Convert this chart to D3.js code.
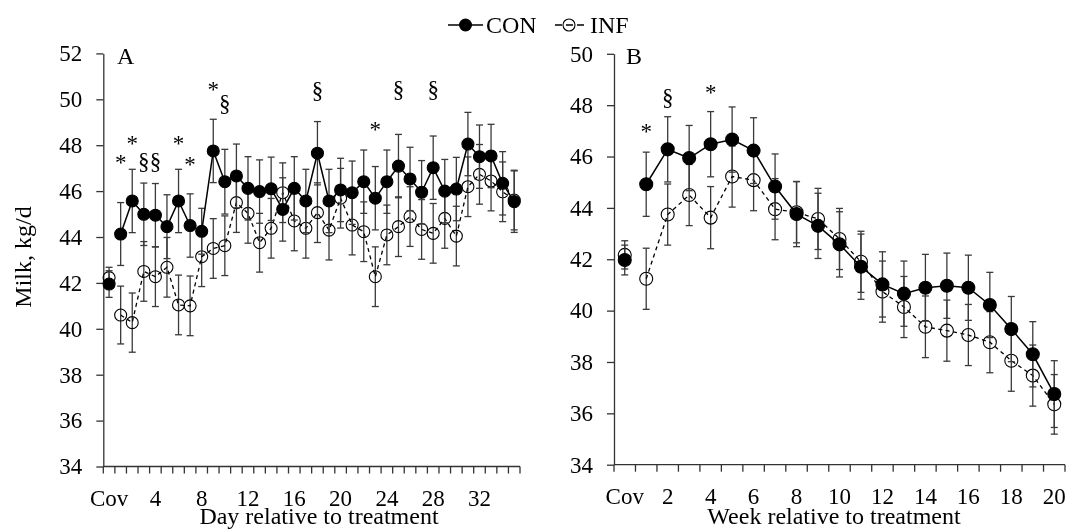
<!DOCTYPE html>
<html>
<head>
<meta charset="utf-8">
<script src="https://cdn.jsdelivr.net/npm/d3@7"></script>
<style>
  body { margin: 0; background: #fff; }
  svg { font-family: "Liberation Serif", "Times New Roman", serif; will-change: transform; }
</style>
</head>
<body>
<script>
// ---- data: panel A (daily) ----
let dayCats = ['Cov'].concat(d3.range(1, 36).map(String));
let dayLabels = ['Cov', '4', '8', '12', '16', '20', '24', '28', '32'];
let dayCon = [41.95, 44.13, 45.57, 44.99, 44.95, 44.45, 45.57, 44.5, 44.25, 47.75,
  46.41, 46.66, 46.12, 45.98, 46.1, 45.2, 46.12, 45.57, 47.65, 45.57,
  46.05, 45.93, 46.41, 45.69, 46.41, 47.09, 46.53, 45.95, 47.02, 46.0,
  46.09, 48.05, 47.5, 47.53, 46.34, 45.54];
let dayInf = [42.23, 40.6, 40.27, 42.5, 42.27, 42.68, 41.04, 41.0, 43.14, 43.5,
  43.62, 45.5, 45.03, 43.75, 44.38, 45.93, 44.7, 44.38, 45.06, 44.3,
  45.69, 44.52, 44.23, 42.27, 44.09, 44.45, 44.89, 44.33, 44.16, 44.81,
  44.04, 46.19, 46.73, 46.44, 45.97, 45.61];
let dayConSe = [0.58, 1.37, 1.38, 1.36, 1.38, 1.39, 1.38, 1.38, 1.0, 1.38,
  1.41, 1.39, 1.38, 1.38, 1.38, 1.38, 1.38, 1.38, 1.38, 1.38,
  1.38, 1.38, 1.38, 1.38, 1.38, 1.38, 1.38, 1.38, 1.38, 1.38,
  1.38, 1.38, 1.38, 1.38, 1.38, 1.34];
let dayInfSe = [0.45, 1.26, 1.29, 1.3, 1.3, 1.3, 1.3, 1.3, 1.3, 1.3,
  1.3, 1.3, 1.3, 1.28, 1.3, 1.3, 1.3, 1.3, 1.3, 1.3,
  1.3, 1.3, 1.3, 1.3, 1.3, 1.3, 1.3, 1.3, 1.3, 1.3,
  1.3, 1.3, 1.3, 1.3, 1.3, 1.3];
let dayMarkIdx = [1, 2, 3, 4, 6, 7, 9, 10, 18, 23, 25, 28];
let dayMarkSym = ['*', '*', '§', '§', '*', '*', '*', '§', '§', '*', '§', '§'];
let dayMarkY = [46.92, 47.75, 46.96, 46.96, 47.75, 46.83, 50.11, 49.5, 50.06, 48.36, 50.11, 50.11];

// ---- data: panel B (weekly) ----
let weekCats = ['Cov'].concat(d3.range(1, 21).map(String));
let weekLabels = ['Cov', '2', '4', '6', '8', '10', '12', '14', '16', '18', '20'];
let weekCon = [41.97, 44.92, 46.28, 45.94, 46.48, 46.66, 46.23, 44.83, 43.76, 43.3,
  42.58, 41.71, 41.02, 40.66, 40.89, 40.97, 40.89, 40.22, 39.28, 38.3, 36.75];
let weekInf = [42.17, 41.24, 43.74, 44.5, 43.62, 45.22, 45.08, 43.95, 43.83, 43.57,
  42.79, 41.9, 40.74, 40.14, 39.37, 39.22, 39.05, 38.77, 38.05, 37.47, 36.35];
let weekConSe = [0.58, 1.25, 1.27, 1.27, 1.27, 1.27, 1.28, 1.27, 1.27, 1.27,
  1.27, 1.27, 1.27, 1.27, 1.3, 1.27, 1.27, 1.27, 1.27, 1.27, 1.3];
let weekInfSe = [0.55, 1.19, 1.19, 1.19, 1.21, 1.19, 1.19, 1.19, 1.19, 1.19,
  1.19, 1.19, 1.19, 1.19, 1.2, 1.19, 1.19, 1.19, 1.19, 1.19, 1.16];
let weekMarkIdx = [1, 2, 4];
let weekMarkSym = ['*', '§', '*'];
let weekMarkY = [46.67, 48.0, 48.19];

let width = 1068, height = 529;

let svg = d3.select('body')
  .append('svg')
    .attr('width', width)
    .attr('height', height);

function drawPanel(p) {
  let x = d3.scaleBand()
    .domain(p.cats)
    .range([p.left, p.right])
    .padding(0);
  let y = d3.scaleLinear()
    .domain(p.yDomain)
    .range([p.bottom, p.top]);
  let cx = i => x(p.cats[i]) + x.bandwidth() / 2;

  let g = svg.append('g');

  // y axis
  let yAxis = g.append('g')
    .attr('transform', `translate(${p.left},0)`)
    .call(d3.axisLeft(y).tickValues(d3.range(p.yDomain[0], p.yDomain[1] + 1, 2))
      .tickSize(7).tickPadding(14).tickSizeOuter(0));
  yAxis.select('.domain').attr('stroke', '#333').attr('stroke-width', 1.3);
  yAxis.selectAll('.tick line').attr('stroke', '#333').attr('stroke-width', 1.3);
  yAxis.selectAll('text').style('font-size', '23px').attr('fill', '#000')
    .style('font-family', '"Liberation Serif", serif');

  // x axis line + tick marks between categories
  let xAxis = g.append('g')
    .attr('transform', `translate(0,${p.bottom})`);
  xAxis.append('line')
    .attr('x1', p.left).attr('x2', p.right)
    .attr('stroke', '#333').attr('stroke-width', 1.3);
  xAxis.selectAll('.xt')
    .data(p.cats.map(c => x(c)).concat([p.right]))
    .enter().append('line')
      .attr('x1', d => d).attr('x2', d => d)
      .attr('y1', 0).attr('y2', 7)
      .attr('stroke', '#333').attr('stroke-width', 1.3);
  xAxis.selectAll('.xl')
    .data(p.labels)
    .enter().append('text')
      .attr('x', d => x(d) + x.bandwidth() / 2)
      .attr('y', 39)
      .attr('text-anchor', 'middle')
      .style('font-size', '23px')
      .text(d => d);

  // axis title
  g.append('text')
    .attr('x', p.titleX)
    .attr('y', 524)
    .attr('text-anchor', 'middle')
    .style('font-size', '24px')
    .text(p.title);

  // panel letter
  g.append('text')
    .attr('x', p.letterX)
    .attr('y', 64)
    .style('font-size', '24px')
    .text(p.letter);

  function series(vals, se, dashed) {
    let idx = d3.range(vals.length);
    // error bars
    let eb = g.append('g').attr('stroke', '#3a3a3a').attr('stroke-width', 1.3);
    eb.selectAll('.v').data(idx).enter().append('line')
      .attr('x1', cx).attr('x2', cx)
      .attr('y1', i => y(vals[i] - se[i])).attr('y2', i => y(vals[i] + se[i]));
    eb.selectAll('.t').data(idx).enter().append('line')
      .attr('x1', i => cx(i) - 3.5).attr('x2', i => cx(i) + 3.5)
      .attr('y1', i => y(vals[i] + se[i])).attr('y2', i => y(vals[i] + se[i]));
    eb.selectAll('.b').data(idx).enter().append('line')
      .attr('x1', i => cx(i) - 3.5).attr('x2', i => cx(i) + 3.5)
      .attr('y1', i => y(vals[i] - se[i])).attr('y2', i => y(vals[i] - se[i]));

    // line (Cov point is not connected)
    let line = d3.line().x(cx).y(i => y(vals[i]));
    g.append('path')
      .datum(idx.slice(1))
      .attr('d', line)
      .attr('fill', 'none')
      .attr('stroke', '#000')
      .attr('stroke-width', dashed ? 1.3 : 1.5)
      .attr('stroke-dasharray', dashed ? '4,3.5' : null);

    g.selectAll(null).data(idx).enter().append('circle')
      .attr('cx', cx)
      .attr('cy', i => y(vals[i]))
      .attr('r', p.r)
      .attr('fill', dashed ? 'none' : '#000')
      .attr('stroke', '#000')
      .attr('stroke-width', 1.1);
  }

  series(p.inf, p.infSe, true);
  series(p.con, p.conSe, false);

  // significance marks
  g.selectAll('.mk')
    .data(p.markIdx)
    .enter().append('text')
      .attr('x', d => cx(d))
      .attr('y', (d, i) => y(p.markY[i]))
      .attr('text-anchor', 'middle')
      .attr('fill', '#000')
      .style('font-size', '23px')
      .text((d, i) => p.markSym[i]);
}

drawPanel({
  cats: dayCats, labels: dayLabels, con: dayCon, inf: dayInf,
  conSe: dayConSe, infSe: dayInfSe,
  markIdx: dayMarkIdx, markSym: dayMarkSym, markY: dayMarkY,
  left: 103.3, right: 520, top: 53.4, bottom: 466.5, yDomain: [34, 52],
  title: 'Day relative to treatment', titleX: 319, letter: 'A', letterX: 117, r: 6
});

drawPanel({
  cats: weekCats, labels: weekLabels, con: weekCon, inf: weekInf,
  conSe: weekConSe, infSe: weekInfSe,
  markIdx: weekMarkIdx, markSym: weekMarkSym, markY: weekMarkY,
  left: 614, right: 1065, top: 53.8, bottom: 464.7, yDomain: [34, 50],
  title: 'Week relative to treatment', titleX: 834, letter: 'B', letterX: 626, r: 6.5
});

// y axis title
svg.append('text')
  .attr('transform', 'translate(31,257) rotate(-90)')
  .attr('text-anchor', 'middle')
  .style('font-size', '24px')
  .text('Milk, kg/d');

// legend
let legend = svg.append('g').attr('class', 'legend');
legend.append('line')
  .attr('x1', 448).attr('x2', 483).attr('y1', 25).attr('y2', 25)
  .attr('stroke', '#000').attr('stroke-width', 1.5);
legend.append('circle')
  .attr('cx', 465.5).attr('cy', 25).attr('r', 6.5).attr('fill', '#000');
legend.append('text')
  .attr('x', 486).attr('y', 33)
  .style('font-size', '24px')
  .text('CON');
legend.append('line')
  .attr('x1', 555).attr('x2', 585).attr('y1', 25).attr('y2', 25)
  .attr('stroke', '#000').attr('stroke-width', 1.3)
  .attr('stroke-dasharray', '7,4');
legend.append('circle')
  .attr('cx', 569).attr('cy', 25).attr('r', 6)
  .attr('fill', 'none').attr('stroke', '#000').attr('stroke-width', 1.1);
legend.append('text')
  .attr('x', 590).attr('y', 33)
  .style('font-size', '24px')
  .text('INF');
</script>
</body>
</html>
